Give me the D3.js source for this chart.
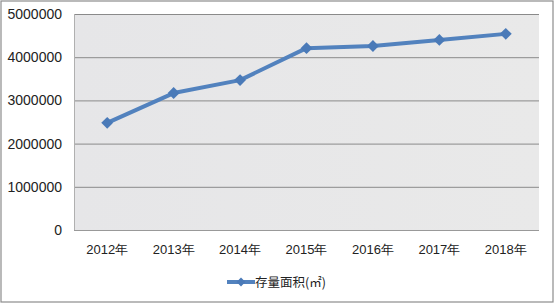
<!DOCTYPE html>
<html>
<head>
<meta charset="utf-8">
<script src="https://cdn.jsdelivr.net/npm/d3@7/dist/d3.min.js"></script>
<style>
body{margin:0;background:#fff;}
svg{display:block;font-family:"Microsoft YaHei","Noto Sans CJK SC","DejaVu Sans",sans-serif;}
</style>
</head>
<body>
<div id="chart"></div>
<script>
var years = ["2012年","2013年","2014年","2015年","2016年","2017年","2018年"];
var areaValues = [2480000,3170000,3470000,4210000,4260000,4400000,4540000];
var yTicks = [0,1000000,2000000,3000000,4000000,5000000];
var seriesName = "存量面积(㎡)";

var dim = {width:554, height:303, left:74, right:539, top:14, bottom:230};

var svg = d3.select("#chart").append("svg")
	.attr("width",dim.width)
	.attr("height",dim.height);

svg.append("rect")
	.attr("x",1).attr("y",1)
	.attr("width",dim.width-2).attr("height",dim.height-2)
	.attr("fill","#fff").attr("stroke","#8c8c8c").attr("stroke-width",1.2);

var x = d3.scaleBand().domain(years).range([dim.left,dim.right]);
var y = d3.scaleLinear().domain([0,5000000]).range([dim.bottom,dim.top]);

var grad = svg.append("defs").append("linearGradient").attr("id","bg")
	.attr("x1",0).attr("y1",0).attr("x2",1).attr("y2",0);
grad.append("stop").attr("offset","0%").attr("stop-color","#e6e6e8");
grad.append("stop").attr("offset","100%").attr("stop-color","#e9e9e9");

svg.append("rect")
	.attr("x",dim.left).attr("y",dim.top)
	.attr("width",dim.right-dim.left).attr("height",dim.bottom-dim.top)
	.attr("fill","url(#bg)");

svg.append("g").selectAll("line")
	.data(yTicks.slice(1))
	.join("line")
	.attr("x1",dim.left).attr("x2",dim.right)
	.attr("y1",d=>y(d)+0.5).attr("y2",d=>y(d)+0.5)
	.attr("stroke","#8a8a8a").attr("stroke-width",1);

svg.append("line")
	.attr("x1",dim.left+0.5).attr("x2",dim.left+0.5)
	.attr("y1",dim.top).attr("y2",dim.bottom)
	.attr("stroke","#b0b0b0");
svg.append("line")
	.attr("x1",dim.left).attr("x2",dim.right)
	.attr("y1",dim.bottom+0.5).attr("y2",dim.bottom+0.5)
	.attr("stroke","#999").attr("stroke-width",1.2);

var yAxis = svg.append("g")
	.attr("transform",`translate(${dim.left},0)`)
	.call(d3.axisLeft(y).tickValues(yTicks).tickSize(0).tickPadding(12).tickFormat(d3.format("d")));
yAxis.select(".domain").remove();
yAxis.selectAll("text").attr("font-size","14px").attr("fill","#222").attr("font-family","inherit");

var xAxis = svg.append("g")
	.attr("transform",`translate(0,${dim.bottom})`)
	.call(d3.axisBottom(x).tickSize(0).tickPadding(15));
xAxis.select(".domain").remove();
xAxis.selectAll("text").attr("font-size","13px").attr("fill","#222").attr("font-family","inherit");

var cx = (d,i)=>x(years[i])+x.bandwidth()/2;

svg.append("path")
	.datum(areaValues)
	.attr("fill","none")
	.attr("stroke","#5282be")
	.attr("stroke-width",4)
	.attr("stroke-linejoin","round")
	.attr("d",d3.line().x(cx).y(d=>y(d)));

var diamond = d3.symbol().type(d3.symbolDiamond2).size(90);

svg.append("g").selectAll("path")
	.data(areaValues)
	.join("path")
	.attr("transform",(d,i)=>`translate(${cx(d,i)},${y(d)})`)
	.attr("d",diamond)
	.attr("fill","#4a7ab8");

var legend = svg.append("g").attr("transform","translate(227,282)");
legend.append("line")
	.attr("x1",0).attr("x2",28)
	.attr("stroke","#5282be").attr("stroke-width",4);
legend.append("path")
	.attr("transform","translate(14,0)")
	.attr("d",d3.symbol().type(d3.symbolDiamond2).size(50))
	.attr("fill","#4a7ab8");
legend.append("text")
	.attr("x",28).attr("y",4.5)
	.attr("font-size","12.5px").attr("fill","#222")
	.text(seriesName);
</script>
</body>
</html>
